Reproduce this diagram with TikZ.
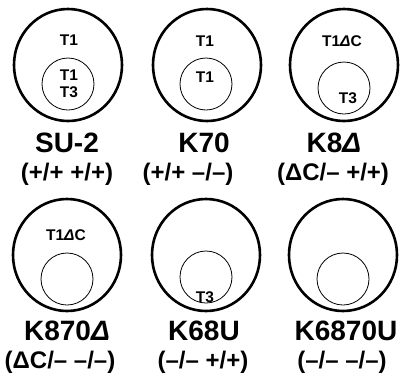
\documentclass[tikz,border=0pt]{standalone}
\usepackage{fontspec}
\setmainfont{Liberation Sans}
\usetikzlibrary{shapes.geometric}
\tikzset{
  outerring/.style={draw, ellipse, line width=2.6pt, minimum width=108pt, minimum height=112pt, inner sep=0},
  innerring/.style={draw, circle, line width=0.8pt, minimum size=52pt, inner sep=0},
  strain/.style={font=\fontsize{28}{28}\selectfont\bfseries, inner sep=0, anchor=base},
  geno/.style={font=\fontsize{24}{24}\selectfont\bfseries, inner sep=0, anchor=base},
  tag/.style={font=\fontsize{15.5}{16}\selectfont\bfseries, inner sep=0},
}
\newcommand{\dl}{{\itshape Δ}}
\begin{document}
\begin{tikzpicture}[x=1pt,y=-1pt]
\useasboundingbox (0,0) rectangle (402,373);
% top row
\node[outerring] (o1) at (68,65) {};
\node[innerring] (i1) at (68,84) {};
\node[tag] (a1) at (69,40) {T1};
\node[tag] (b1) at (69,75) {T1};
\node[tag] (c1) at (69,92) {T3};
\node[strain] (n1) at (67,152) {SU-2};
\node[geno] (g1) at (67,180) {(+/+ +/+)};

\node[outerring] (o2) at (207,65) {};
\node[innerring] (i2) at (206,84) {};
\node[tag] (a2) at (205,41) {T1};
\node[tag] (b2) at (205,77) {T1};
\node[strain] (n2) at (204,152) {K70};
\node[geno] (g2) at (188,180) {(+/+ –/–)};

\node[outerring] (o3) at (344,65) {};
\node[innerring] (i3) at (344,88) {};
\node[tag] (a3) at (342,41) {T1\dl C};
\node[tag] (c3) at (348,98) {T3};
\node[strain] (n3) at (334,152) {K8\dl};
\node[geno] (g3) at (333,180) {(ΔC/– +/+)};

% bottom row
\node[outerring] (o4) at (67,255) {};
\node[innerring] (i4) at (67,279) {};
\node[tag] (a4) at (66,235) {T1\dl C};
\node[strain] (n4) at (67,340) {K870\dl};
\node[geno] (g4) at (60,368) {(ΔC/– –/–)};

\node[outerring] (o5) at (206,255) {};
\node[innerring] (i5) at (206,277) {};
\node[tag] (c5) at (205,297) {T3};
\node[strain] (n5) at (204,340) {K68U};
\node[geno] (g5) at (203,368) {(–/– +/+)};

\node[outerring] (o6) at (343,255) {};
\node[innerring] (i6) at (343,279) {};
\node[strain] (n6) at (346,340) {K6870U};
\node[geno] (g6) at (342,368) {(–/– –/–)};
\end{tikzpicture}
\end{document}
